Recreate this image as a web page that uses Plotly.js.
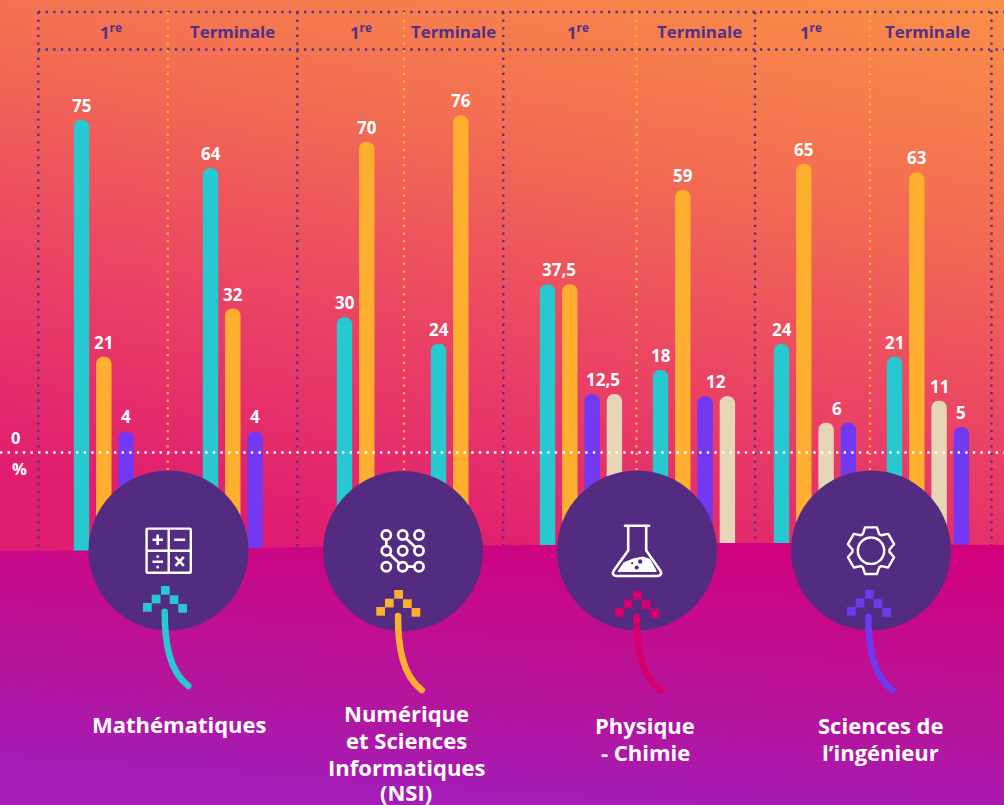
<!DOCTYPE html>
<html><head><meta charset="utf-8">
<script src="https://cdn.plot.ly/plotly-3.0.1.min.js"></script>
<style>html,body{margin:0;padding:0;background:#fff}#chart{width:1004px;height:805px}</style>
</head><body><div id="chart"></div>
<script>
// ---------- DATA (one entry per level column, left to right) ----------
const subjects = ['Mathématiques','Numérique<br>et Sciences<br>Informatiques<br>(NSI)','Physique<br>- Chimie','Sciences de<br>l’ingénieur'];
const levels = ['1<sup>re</sup>','Terminale','1<sup>re</sup>','Terminale','1<sup>re</sup>','Terminale','1<sup>re</sup>','Terminale'];
const tealValues   = [75, 64, 30, 24, 37.5, 18, 24, 21];
const orangeValues = [21, 32, 70, 76, 37.5, 59, 65, 63];
const purpleValues = [4, 4, null, null, 12.5, 12, 6, 5];
const beigeValues  = [null, null, null, null, 12.5, 12, 6, 11];

// ---------- LAYOUT CONSTANTS ----------
const W = 1004, H = 805, ZERO_PX = 449, PX_PER_UNIT = 4.39;
const yU = px => (ZERO_PX - px) / PX_PER_UNIT;
const columnStart = [81.5, 210.5, 344.5, 438.5, 547.5, 660.5, 781.5, 894.5];
const pitch = 22.3, barWidth = 15.4, stemDepth = 25;
const slotsPurple = [2, 2, 0, 0, 2, 2, 3, 3];
const slotsBeige  = [0, 0, 0, 0, 3, 3, 2, 2];
const xAt = (c, s) => columnStart[c] + s * pitch;

const colors = {teal:'#27C8D0', orange:'#FFAF30', purple:'#7338F2', beige:'#E6D6B6', ink:'#52308A', disc:'#532C82', dot:'#FFAE2E', crimson:'#D5006E', violet:'#6D3AF0'};

function series(name, values, color, slotOf) {
  const xs = [], ys = [];
  values.forEach((v, c) => { if (v !== null) { xs.push(xAt(c, slotOf(c))); ys.push(v); } });
  return [
    {type:'bar', name, x:xs, y:ys, width:barWidth, marker:{color, cornerradius:8, line:{width:0}}, hovertemplate:'%{y}<extra></extra>'},
    {type:'bar', x:xs, y:ys.map(() => -stemDepth), width:barWidth, marker:{color, cornerradius:0, line:{width:0}}, hoverinfo:'skip', showlegend:false}
  ];
}
const traces = [
  ...series('Turquoise', tealValues, colors.teal, () => 0),
  ...series('Orange', orangeValues, colors.orange, () => 1),
  ...series('Violet', purpleValues, colors.purple, c => slotsPurple[c]),
  ...series('Beige', beigeValues, colors.beige, c => slotsBeige[c])
];

// ---------- DECORATION ----------
const bgSvg = `<svg xmlns="http://www.w3.org/2000/svg" width="${W}" height="${H}" viewBox="0 0 ${W} ${H}">
<defs><linearGradient id="g" gradientUnits="userSpaceOnUse" x1="1004" y1="-20" x2="880" y2="640">
<stop offset="0" stop-color="#FA9245"/><stop offset="0.35" stop-color="#F36E52"/><stop offset="0.72" stop-color="#E93D66"/><stop offset="1" stop-color="#E01C70"/></linearGradient></defs>
<rect width="${W}" height="${H}" fill="url(#g)"/></svg>`;

const discs = [[168.5,550.5],[403,551],[637,550.5],[871,550.5]];
const arrowTops = [[161,586,colors.teal],[394.3,590,colors.orange],[633,591,colors.crimson],[865,590,colors.violet]];
const pix = [[0,0],[-9.3,8.7],[8.7,9.3],[-18,17],[17.3,18]];
const stems = [
  ['M164.7 611.7C164.7 642 169 671 188.3 686', colors.teal],
  ['M398 616C398 646 402 675 421.7 690', colors.orange],
  ['M636.7 616.7C636.7 647 641 676 660.7 690.7', colors.crimson],
  ['M868.3 616.7C868.3 647 873 676 892.3 690', colors.violet]
];
function gearPath(cx, cy) {
  const teeth = 6, pts = [];
  for (let i = 0; i < teeth; i++) {
    const a = i * Math.PI * 2 / teeth - Math.PI / 2;
    [[-0.46,18.5],[-0.25,24],[0.25,24],[0.46,18.5]].forEach(([da, r]) => {
      pts.push((cx + r * Math.cos(a + da)).toFixed(1) + ' ' + (cy + r * Math.sin(a + da)).toFixed(1));
    });
  }
  return 'M' + pts.join('L') + 'Z';
}
const icons = `
<g fill="none" stroke="#fff" stroke-width="2.4" stroke-linejoin="round">
 <rect x="146.6" y="528.6" width="44.2" height="44.2" rx="1"/><path d="M168.7 528.6V572.8M146.6 550.7H190.8"/>
 <path d="M152.5 539.8H163M157.7 534.5V545M174.2 539.8H185.2M152.5 561.8H163M175.5 556.8L183.8 565.8M183.8 556.8L175.5 565.8" stroke-width="2.6"/>
</g>
<circle cx="157.7" cy="556.4" r="1.5" fill="#fff"/><circle cx="157.7" cy="567" r="1.5" fill="#fff"/>
<g fill="none" stroke="#fff" stroke-width="2.7">
 <path d="M386.3 539.5V546.2M405.8 538.3L415.8 547.6M389.5 554L399.5 563.5M407.5 566.7H414.5"/>
 ${[386.3,402.7,419].map(x => [535,550.7,566.7].map(y => `<circle cx="${x}" cy="${y}" r="4.6"/>`).join('')).join('')}
</g>
<g fill="none" stroke="#fff" stroke-width="2.6" stroke-linecap="round" stroke-linejoin="round">
 <path d="M625 525.7H649"/><path d="M628.2 526V550.5L613.8 570.5C611.8 573.6 613.5 576 616.5 576H657.5C660.5 576 662.2 573.6 660.2 570.5L646.2 550.5V526"/>
</g>
<path d="M623.5 562.5L633 558.5L643 556.5L650 559L656.5 570.5Q657 572 655 572H619Q617 572 618 570.5Z" fill="#fff"/>
<circle cx="640.2" cy="561.5" r="2.2" fill="#532C82"/><circle cx="632.2" cy="563.2" r="1.1" fill="#532C82"/><circle cx="636.7" cy="567.5" r="2.1" fill="#532C82"/>
<g fill="none" stroke="#fff" stroke-width="2.4" stroke-linejoin="round">
 <path d="${gearPath(871,550.7)}"/><circle cx="871" cy="550.7" r="13.2"/>
</g>`;
const overlaySvg = `<svg xmlns="http://www.w3.org/2000/svg" width="${W}" height="${H}" viewBox="0 0 ${W} ${H}">
<defs><linearGradient id="p" gradientUnits="userSpaceOnUse" x1="1004" y1="545" x2="984" y2="830">
<stop offset="0" stop-color="#D3007A"/><stop offset="0.3" stop-color="#C60A8A"/><stop offset="0.7" stop-color="#B3159F"/><stop offset="1" stop-color="#A51CB6"/></linearGradient></defs>
<path d="M0 551L80 550.6L270 547.7L320 546.7L550 545L720 543L780 543L960 544.8L1004 545V805H0Z" fill="url(#p)"/>
${discs.map(([x,y]) => `<circle cx="${x}" cy="${y}" r="80" fill="${colors.disc}"/>`).join('')}
${arrowTops.map(([x,y,c]) => pix.map(([dx,dy]) => `<rect x="${x+dx}" y="${y+dy}" width="8.7" height="8.7" fill="${c}"/>`).join('')).join('')}
${stems.map(([d,c]) => `<path d="${d}" fill="none" stroke="${c}" stroke-width="6.5" stroke-linecap="round"/>`).join('')}
${icons}</svg>`;
const uri = s => 'data:image/svg+xml;charset=utf-8,' + encodeURIComponent(s);
const fullImg = (s, layer) => ({source:uri(s), xref:'paper', yref:'paper', x:0, y:1, sizex:1, sizey:1, xanchor:'left', yanchor:'top', sizing:'stretch', layer});

const dotted = (x0, y0, x1, y1, color, layer, w) => ({type:'line', xref:'x', yref:'y', x0, x1, y0:yU(y0), y1:yU(y1), layer, line:{color, width:w||2.3, dash:(w||2.3)+'px,'+(7.6-(w||2.3))+'px'}});
const shapes = [
  dotted(38,12,1004,12,colors.ink,'below'), dotted(38,49.5,1004,49.5,colors.ink,'below'),
  ...[38.3,297.3,503.3,755,991.5].map(x => dotted(x,12,x,548,colors.ink,'below')),
  ...[167.7,404,636.5,870].map(x => dotted(x,12,x,500,colors.dot,'below')),
  dotted(0,452.5,1004,452.5,'#FFFFFF','above',2.4)
];

// ---------- TEXT ----------
const FONT = '"Open Sans", Lato, sans-serif';
const fmt = v => String(v).replace('.', ',');
const valueLabels = [
  [0,0,75],[0,1,21],[0,2,4],[1,0,64],[1,1,32],[1,2,4],
  [2,0,30],[2,1,70],[3,0,24],[3,1,76],
  [4,0.5,37.5],[4,2.5,12.5],[5,0,18],[5,1,59],[5,2.5,12],
  [6,0,24],[6,1,65],[6,2.5,6],[7,0,21],[7,1,63],[7,2,11],[7,3,5]
];
const headerX = [111,232.5,361,453.5,578,699,811,927];
const subjectX = [179,406,645,880];
const subjectY = [[724],[713,740,767,792],[725,752],[725,752]];
const txt = (x, pyv, text, size, color) => ({x, y:yU(pyv), xref:'x', yref:'y', text, showarrow:false, xanchor:'center', yanchor:'middle', font:{family:FONT, size, color, weight:700}});
const annotations = [
  ...valueLabels.map(([c,s,v]) => ({x:xAt(c,s), y:v, xref:'x', yref:'y', text:fmt(v), showarrow:false, xanchor:'center', yanchor:'bottom', yshift:1, font:{family:FONT, size:17, color:'#fff', weight:700}})),
  ...levels.map((t,i) => txt(headerX[i], 31, t, 16.8, colors.ink)),
  ...subjects.flatMap((t,i) => t.split('<br>').map((line,j) => txt(subjectX[i], subjectY[i][j], line, 22, '#fff'))),
  txt(15.5, 437, '0', 16.5, '#fff'),
  txt(19.5, 468, '%', 16.5, '#fff')
];

const layout = {
  width:W, height:H, autosize:false, margin:{l:0,r:0,t:0,b:0,pad:0},
  paper_bgcolor:'rgba(0,0,0,0)', plot_bgcolor:'rgba(0,0,0,0)',
  barmode:'relative', showlegend:false, hovermode:'closest',
  xaxis:{range:[0,W], visible:false, fixedrange:true},
  yaxis:{range:[yU(H), yU(0)], visible:false, fixedrange:true},
  images:[fullImg(bgSvg,'below'), fullImg(overlaySvg,'above')],
  shapes, annotations, font:{family:FONT}
};
Plotly.newPlot('chart', traces, layout, {displayModeBar:false});
</script></body></html>
